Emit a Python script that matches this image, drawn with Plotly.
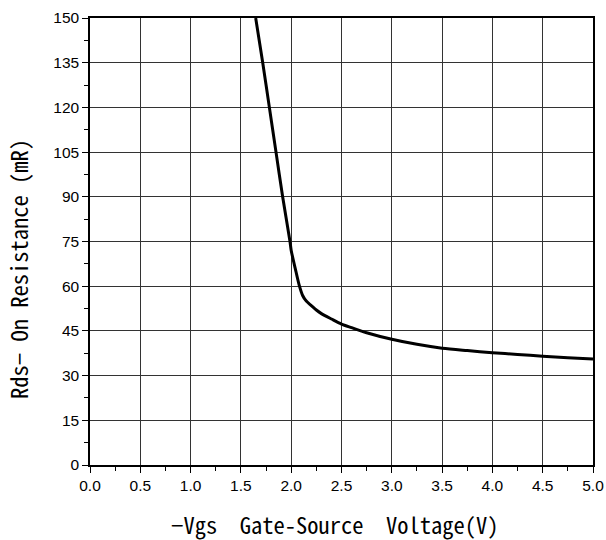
import plotly.graph_objects as go

# Curve: -Vgs (V) vs Rds(on) (mR)
vgs = [1.647, 1.717, 1.783, 1.849, 1.915, 1.988, 2.00, 2.04, 2.08, 2.115, 2.15, 2.20, 2.25, 2.30, 2.40, 2.50, 2.60, 2.75, 3.00, 3.25, 3.50, 3.75, 4.00, 4.25, 4.50, 4.75, 5.00]
rds = [150, 135, 120, 105, 90, 75, 72, 66, 60.3, 56.8, 55.0, 53.5, 52, 50.8, 49, 47.3, 46.1, 44.4, 42.2, 40.5, 39.2, 38.4, 37.7, 37.1, 36.5, 36.0, 35.6]

x_ticks = [0.0, 0.5, 1.0, 1.5, 2.0, 2.5, 3.0, 3.5, 4.0, 4.5, 5.0]
y_ticks = [0, 15, 30, 45, 60, 75, 90, 105, 120, 135, 150]

x_title = "−Vgs  Gate-Source  Voltage(V)"
y_title = "Rds− On Resistance (mR)"

fig = go.Figure()
fig.add_trace(go.Scatter(x=vgs, y=rds, mode="lines",
                         line=dict(color="black", width=3, shape="spline", smoothing=0.8),
                         showlegend=False, hoverinfo="skip"))

tickfont = dict(family="Liberation Sans, Arial, sans-serif", size=15.5, color="black")
titlefont = dict(family="Noto Sans Mono CJK SC, DejaVu Sans Mono, monospace", size=22.5, color="black")

fig.update_layout(
    width=606, height=540,
    margin=dict(l=90, r=13, t=18, b=75),
    paper_bgcolor="white", plot_bgcolor="white",
    xaxis=dict(range=[0, 5], tickvals=x_ticks, ticktext=[f"{v:.1f}" for v in x_ticks],
               automargin=False,
               showgrid=True, gridcolor="#333", gridwidth=1.2,
               showline=True, linecolor="black", linewidth=1.5, mirror=True,
               ticks="outside", ticklen=6, tickwidth=1.2, tickcolor="black",
               minor=dict(dtick=0.25, ticks="outside", ticklen=4, tickcolor="black", showgrid=False),
               tickfont=tickfont, zeroline=False),
    yaxis=dict(range=[0, 150], tickvals=y_ticks,
               automargin=False,
               showgrid=True, gridcolor="#333", gridwidth=1.2,
               showline=True, linecolor="black", linewidth=1.5, mirror=True,
               ticks="outside", ticklen=6, tickwidth=1.2, tickcolor="black",
               minor=dict(dtick=7.5, ticks="outside", ticklen=4, tickcolor="black", showgrid=False),
               tickfont=tickfont, zeroline=False),
    annotations=[
        dict(text=x_title, xref="paper", yref="paper", x=0.487, y=0, yshift=-59,
             xanchor="center", yanchor="middle", showarrow=False, font=titlefont),
        dict(text=y_title, xref="paper", yref="paper", x=0, y=0.4385, xshift=-72,
             xanchor="center", yanchor="middle", textangle=-90, showarrow=False, font=titlefont),
    ],
)

fig.write_html("out.html")
